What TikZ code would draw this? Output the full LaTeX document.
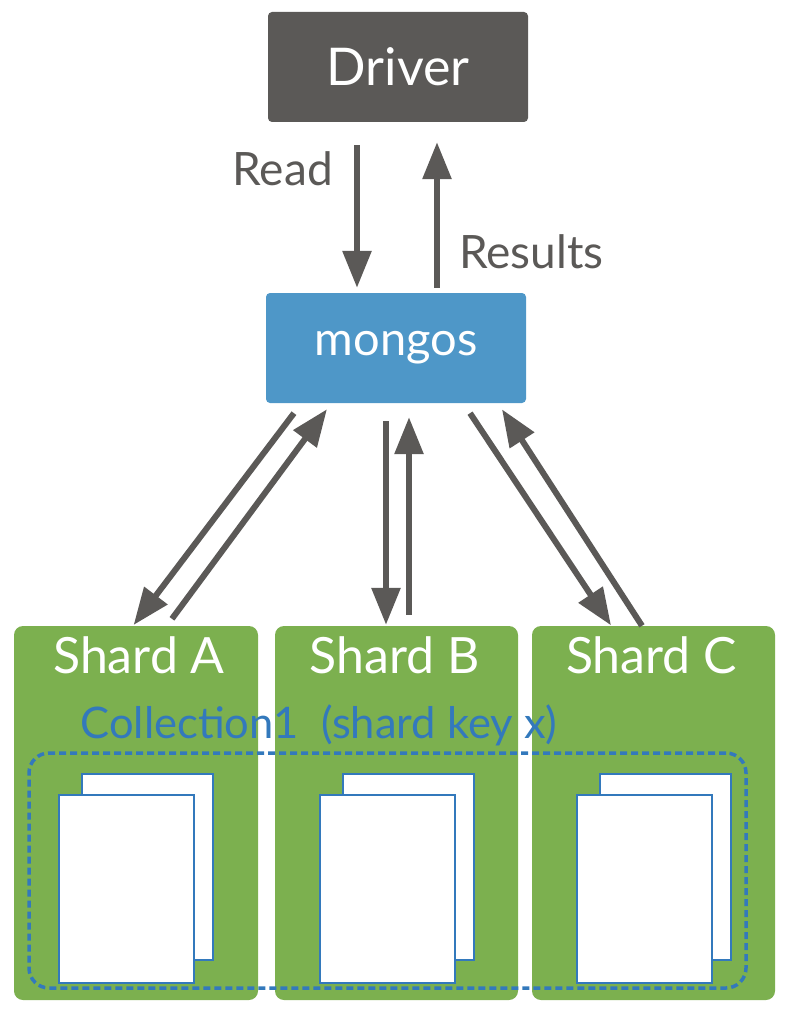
\documentclass[tikz,border=0pt]{standalone}
\usepackage{fontspec}
\setmainfont{Lato}
\usetikzlibrary{arrows.meta,positioning,calc}
\definecolor{drvgray}{HTML}{5B5957}
\definecolor{mgblue}{HTML}{4E97C8}
\definecolor{shgreen}{HTML}{7CB04F}
\definecolor{colblue}{HTML}{3379BC}
\tikzset{
    box/.style={rectangle, rounded corners=4pt, inner sep=0pt, text=white},
    shardbox/.style={box, fill=shgreen, rounded corners=9pt, minimum width=243, minimum height=374},
    shardtitle/.style={text=white, inner sep=0pt, anchor=base, font=\fontsize{50}{56}\selectfont},
    flow/.style={drvgray, line width=6pt, -{Triangle[length=37pt,width=28pt]}},
    flowlabel/.style={text=drvgray, inner sep=0pt, font=\fontsize{46}{52}\selectfont},
    page/.style={draw=colblue, fill=white, line width=2pt},
    collbox/.style={draw=colblue, line width=3.5pt, dash pattern=on 7pt off 4pt, rounded corners=20pt, minimum width=717, minimum height=235, inner sep=0pt}
}
\begin{document}
\begin{tikzpicture}[x=1pt, y=-1pt]
    \useasboundingbox (0,0) rectangle (788,1016);

    \node[box, fill=drvgray, minimum width=260, minimum height=110, font=\fontsize{52}{60}\selectfont] (drv) at (398,67) {Driver};
    \node[box, fill=mgblue, minimum width=260, minimum height=110, font=\fontsize{47}{54}\selectfont] (mg) at (396,348) {mongos};

    \draw[flow, shorten <=23pt, shorten >=5pt] ([xshift=-41pt]drv.south) -- ([xshift=-41pt]drv.south |- mg.north);
    \draw[flow, shorten <=5pt, shorten >=20pt] ([xshift=41pt]mg.north) -- ([xshift=41pt]mg.north |- drv.south);
    \node[flowlabel, anchor=base east] (rd) at ([xshift=-65pt, yshift=-63pt]drv.south) {Read};
    \node[flowlabel, anchor=base west] (res) at ([xshift=61pt, yshift=-146pt]drv.south) {Results};

    \node[shardbox, minimum width=244] (sA) at (136,813) {};
    \node[shardbox] (sB) at (396.5,813) {};
    \node[shardbox] (sC) at (653.5,813) {};
    \node[shardtitle] (tA) at ([xshift=3pt, yshift=-48pt]sA.north) {Shard A};
    \node[shardtitle] (tB) at ([xshift=-2pt, yshift=-48pt]sB.north) {Shard B};
    \node[shardtitle] (tC) at ([xshift=-2pt, yshift=-48pt]sC.north) {Shard C};

    % mongos <-> shards
    \draw[flow, shorten <=12.5pt, shorten >=1pt] ([xshift=-94.5pt]mg.south) -- ([xshift=-3pt]sA.north);
    \draw[flow, shorten <=8.7pt, shorten >=7.5pt] ([xshift=30.8pt]sA.north) -- ([xshift=-64.6pt]mg.south);
    \draw[flow, shorten <=18pt, shorten >=1pt] ([xshift=-10pt]mg.south) -- ([xshift=-10.5pt]sB.north);
    \draw[flow, shorten <=11pt, shorten >=14pt] ([xshift=12.5pt]sB.north) -- ([xshift=13pt]mg.south);
    \draw[flow, shorten <=12pt, shorten >=0.5pt] ([xshift=67.4pt]mg.south) -- ([xshift=-42.2pt]sC.north);
    \draw[flow, shorten <=0pt, shorten >=7.3pt] ([xshift=-11.5pt]sC.north) -- ([xshift=102pt]mg.south);

    \foreach \s in {sA,sB,sC}{
        \draw[page] ([xshift=68pt, yshift=-148pt]\s.north west) rectangle ++(131,186);
        \draw[page] ([xshift=45pt, yshift=-169pt]\s.north west) rectangle ++(135,188);
    }

    \node[collbox] (coll) at (387.5,870.5) {};
    \node[text=colblue, inner sep=0pt, anchor=base west, font=\fontsize{43.5}{50}\selectfont] (ctitle) at ([xshift=53pt, yshift=13pt]coll.north west) {Collection1\ \ (shard key x)};

\end{tikzpicture}
\end{document}
